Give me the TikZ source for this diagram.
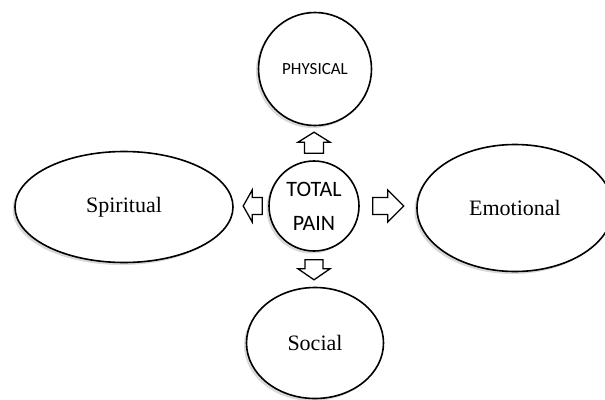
\documentclass[tikz,border=0pt]{standalone}
\usepackage{fontspec}
\setmainfont{Liberation Serif}
\newfontfamily\calibri{Carlito}
\usetikzlibrary{shapes.geometric,shadows,calc}

\tikzset{
  bubble/.style={circle, draw, line width=1.6pt, fill=white, inner sep=0pt,
    drop shadow={shadow xshift=-2.5pt, shadow yshift=-2.5pt, opacity=0.3}},
  oval/.style={ellipse, draw, line width=1.6pt, fill=white, inner sep=0pt,
    drop shadow={shadow xshift=-2.5pt, shadow yshift=-2.5pt, opacity=0.3}},
  arrowline/.style={draw, line width=1.3pt, fill=white, line join=miter},
}

% block arrow: start point, angle, length, head length, shaft half width
\newcommand{\blockarrow}[5]{%
  \begin{scope}[shift={(#1)}, rotate=#2]
    \draw[arrowline] (0,-#5) -- ({#3-#4},-#5) -- ({#3-#4},-16) -- (#3,0)
      -- ({#3-#4},16) -- ({#3-#4},#5) -- (0,#5) -- cycle;
  \end{scope}}

\begin{document}
\begin{tikzpicture}[x=1pt, y=-1pt]
\useasboundingbox (0,0) rectangle (605,399);

\node[bubble, minimum size=113pt, font=\calibri\fontsize{17}{20}\selectfont] (physical) at (315,69) {PHYSICAL};
\node[bubble, minimum size=90pt, align=center, font=\calibri\fontsize{22}{34}\selectfont] (pain) at (314,206) {TOTAL\\PAIN};
\node[oval, minimum width=218pt, minimum height=111pt, font=\fontsize{22}{26}\selectfont] (spiritual) at (124,207) {Spiritual};
\node[oval, minimum width=196pt, minimum height=127pt, font=\fontsize{22}{26}\selectfont] (emotional) at (515,208) {Emotional};
\node[oval, minimum width=137pt, minimum height=111pt, font=\fontsize{22}{26}\selectfont] (social) at (315,343) {Social};

%\draw[dotted] (0,0) grid (605,399);
\blockarrow{$(pain.north)+(0,-7)$}{90}{21}{10}{9.5}
\blockarrow{$(pain.south)+(0,8)$}{-90}{20}{11}{9}
\blockarrow{$(pain.west)+(-6,0)$}{180}{19}{9}{8.5}
\blockarrow{$(pain.east)+(13,0)$}{0}{31}{16}{8.5}
\end{tikzpicture}
\end{document}
